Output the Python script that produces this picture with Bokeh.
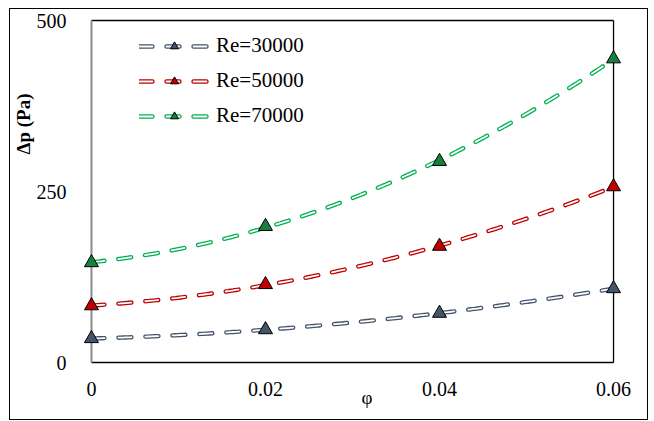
import numpy as np
from bokeh.plotting import figure
from bokeh.models import (Range1d, FixedTicker, Legend, LegendItem, Title)
from bokeh.embed import file_html
from bokeh.resources import INLINE

# ---- data ----
phi = [0.0, 0.02, 0.04, 0.06]
dp_re30000 = [35, 48, 72, 108]
dp_re50000 = [83, 114, 170, 257]
dp_re70000 = [146, 199, 294, 444]
series_names = ["Re=30000", "Re=50000", "Re=70000"]
x_ticks = [0, 0.02, 0.04, 0.06]
x_tick_labels = ["0", "0.02", "0.04", "0.06"]
y_ticks = [0, 250, 500]

line_colors = ["#44546A", "#C00000", "#00B050"]
marker_fills = ["#44546A", "#C00000", "#17803F"]

FONT = "Times New Roman"

# geometry
W, H = 639, 412
pad_x_px, pad_y_px = 10, 6
px_per_x = 524 / 0.06
px_per_y = 342 / 500
x_pad = pad_x_px / px_per_x
y_pad = pad_y_px / px_per_y

p = figure(width=W, height=H, output_backend="svg", toolbar_location=None,
           x_range=Range1d(-x_pad, 0.06 + x_pad),
           y_range=Range1d(-y_pad, 500 + y_pad),
           min_border_left=68, min_border_right=26,
           min_border_top=5, min_border_bottom=53)
p.margin = (8, 0, 0, 9)
p.styles = {"border": "1px solid #000000"}
p.outline_line_color = None
p.xgrid.visible = False
p.ygrid.visible = False
p.background_fill_color = "white"
p.border_fill_color = "white"

# axes
for ax in (p.xaxis[0], p.yaxis[0]):
    ax.axis_line_color = None
    ax.major_tick_line_color = None
    ax.minor_tick_line_color = None
    ax.major_label_text_font = FONT
    ax.major_label_text_font_size = "20px"
    ax.major_label_text_color = "#000000"
p.xaxis.ticker = FixedTicker(ticks=x_ticks)
p.xaxis.major_label_overrides = {t: l for t, l in zip(x_ticks, x_tick_labels)}
p.xaxis.major_label_standoff = 7
p.yaxis.ticker = FixedTicker(ticks=y_ticks)
p.yaxis.major_label_standoff = 9

# plot-area box (frame at data limits)
xmin, xmax = x_ticks[0], x_ticks[-1]
ymin, ymax = y_ticks[0], y_ticks[-1]
p.segment(x0=[xmin, xmin, xmax], y0=[ymin, ymax, ymin],
          x1=[xmax, xmax, xmax], y1=[ymin, ymax, ymax],
          line_color="#000000", line_width=1.3)
p.segment(x0=[xmin], y0=[ymin], x1=[xmin], y1=[ymax],
          line_color="#8C8C8C", line_width=2)

items = []
xs_fit = np.linspace(min(phi), max(phi), 200)
for name, ys, lc, mf in zip(series_names, [dp_re30000, dp_re50000, dp_re70000],
                            line_colors, marker_fills):
    coef = np.polyfit(phi, ys, 2)
    yfit = np.polyval(coef, xs_fit)
    outer = p.line(xs_fit, yfit, line_color=lc, line_width=4.4,
                   line_dash="13 14", line_cap="round")
    inner = p.line(xs_fit, yfit, line_color="white", line_width=1.8,
                   line_dash="13 14", line_cap="round")
    mk = p.scatter(phi, ys, marker="triangle", size=14, fill_color=mf,
                   line_color="#000000", line_width=1)
    items.append(LegendItem(label=name, renderers=[outer, inner, mk]))

legend = Legend(items=items, location=(58, 240),
                glyph_width=70, glyph_height=20, label_height=20,
                label_standoff=7, spacing=10, padding=0, margin=0,
                border_line_color=None, background_fill_alpha=0,
                label_text_font=FONT, label_text_font_size="21px",
                label_text_color="#000000")
p.add_layout(legend, "center")

# axis titles
p.add_layout(Title(text="Δp (Pa)", align="right", offset=79, standoff=0,
                   text_font=FONT, text_font_size="19px",
                   text_font_style="bold", text_color="#000000"), "left")
p.add_layout(Title(text="φ", align="left", offset=280, standoff=-24,
                   vertical_align="top",
                   text_font=FONT, text_font_size="19px",
                   text_font_style="normal", text_color="#000000"), "below")

open("out.html", "w").write(file_html(p, INLINE))
